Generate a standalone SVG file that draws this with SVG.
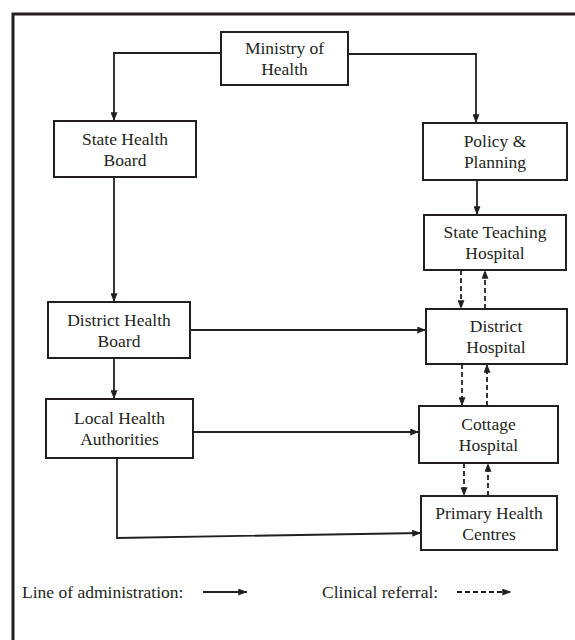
<svg xmlns="http://www.w3.org/2000/svg" width="575" height="640" viewBox="0 0 575 640">
<style>
.box{fill:#fff;stroke:#231f20;stroke-width:2}
.t{font-family:"Liberation Serif","Times New Roman",serif;font-size:17.5px;fill:#231f20;text-anchor:middle}
.lg{font-family:"Liberation Serif","Times New Roman",serif;font-size:17.5px;fill:#231f20}
.c{fill:none;stroke:#231f20;stroke-width:1.8}
.d{fill:none;stroke:#231f20;stroke-width:1.8;stroke-dasharray:5,3}
</style>
<defs>
<marker id="ah" viewBox="0 0 10 8" markerWidth="9" markerHeight="7" refX="10" refY="4" orient="auto" markerUnits="userSpaceOnUse">
<path d="M0,0 L10,4 L0,8 z" fill="#231f20"/>
</marker>
</defs>
<rect width="575" height="640" fill="#fff"/>
<path d="M13,650 V14 H590" fill="none" stroke="#231f20" stroke-width="3"/>
<g id="connectors">
<path class="c" d="M221,53 H114 V121" marker-end="url(#ah)"/>
<path class="c" d="M348,54 H476 V123" marker-end="url(#ah)" stroke-width="2.4"/>
<path class="c" d="M477,180 V215" marker-end="url(#ah)"/>
<path class="c" d="M114,177 V302" marker-end="url(#ah)"/>
<path class="c" d="M114,358 V399" marker-end="url(#ah)"/>
<path class="c" d="M190,330 H426" marker-end="url(#ah)"/>
<path class="c" d="M193,432 H419" marker-end="url(#ah)"/>
<path class="c" d="M117,458 V538 L421,533" marker-end="url(#ah)"/>
<path class="d" d="M461,270 V309" marker-end="url(#ah)"/>
<path class="d" d="M485,309 V270" marker-end="url(#ah)"/>
<path class="d" d="M462,364 V406" marker-end="url(#ah)"/>
<path class="d" d="M487,406 V364" marker-end="url(#ah)"/>
<path class="d" d="M464,463 V496" marker-end="url(#ah)"/>
<path class="d" d="M488,496 V463" marker-end="url(#ah)"/>
</g>
<g id="ministry">
<rect class="box" x="221" y="32" width="127" height="53"/>
<text class="t" x="284.5" y="54">Ministry of</text>
<text class="t" x="284.5" y="75">Health</text>
</g>
<g id="state-health-board">
<rect class="box" x="54" y="121" width="142" height="56"/>
<text class="t" x="125" y="145">State Health</text>
<text class="t" x="125" y="166">Board</text>
</g>
<g id="policy-planning">
<rect class="box" x="423" y="123" width="144" height="57"/>
<text class="t" x="495" y="147">Policy &amp;</text>
<text class="t" x="495" y="168">Planning</text>
</g>
<g id="state-teaching-hospital">
<rect class="box" x="424" y="215" width="142" height="55"/>
<text class="t" x="495" y="238">State Teaching</text>
<text class="t" x="495" y="259">Hospital</text>
</g>
<g id="district-health-board">
<rect class="box" x="48" y="302" width="142" height="56"/>
<text class="t" x="119" y="326">District Health</text>
<text class="t" x="119" y="347">Board</text>
</g>
<g id="district-hospital">
<rect class="box" x="426" y="309" width="141" height="55"/>
<text class="t" x="496" y="332">District</text>
<text class="t" x="496" y="353">Hospital</text>
</g>
<g id="local-health-authorities">
<rect class="box" x="46" y="399" width="147" height="59"/>
<text class="t" x="119.5" y="424">Local Health</text>
<text class="t" x="119.5" y="445">Authorities</text>
</g>
<g id="cottage-hospital">
<rect class="box" x="419" y="406" width="139" height="57"/>
<text class="t" x="488.5" y="430">Cottage</text>
<text class="t" x="488.5" y="451">Hospital</text>
</g>
<g id="primary-health-centres">
<rect class="box" x="421" y="496" width="136" height="54"/>
<text class="t" x="489" y="519">Primary Health</text>
<text class="t" x="489" y="540">Centres</text>
</g>
<g id="legend">
<text class="lg" x="22" y="598">Line of administration:</text>
<path class="c" d="M203,592 H247" marker-end="url(#ah)"/>
<text class="lg" x="322" y="598">Clinical referral:</text>
<path class="d" d="M457,592 H511" marker-end="url(#ah)"/>
</g>
</svg>
